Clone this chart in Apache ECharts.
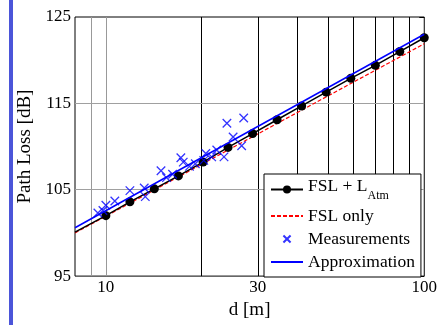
<!DOCTYPE html>
<html>
<head>
<meta charset="utf-8">
<script src="https://cdn.jsdelivr.net/npm/echarts@6/dist/echarts.min.js"></script>
<style>
  html, body { margin: 0; padding: 0; background: #fff; }
  #chart { width: 440px; height: 325px; }
</style>
</head>
<body>
<div id="chart"></div>
<script>
// FSL + L_Atm curve (markers from d = 10 on)
const fslAtmD = [8, 10, 11.9, 14.2, 16.9, 20.2, 24.2, 28.9, 34.5, 41.2, 49.2, 58.8, 70.2, 83.8, 100];
const fslAtmLoss = [100.1, 102.0, 103.6, 105.1, 106.6, 108.2, 109.9, 111.5, 113.1, 114.7, 116.3, 117.9, 119.4, 121.0, 122.6];

// FSL only
const fslD = [8, 100];
const fslLoss = [100.0, 121.9];

// measurements
const measD = [9.44, 9.79, 10.0, 10.67, 11.9, 13.2, 13.3, 14.9, 15.5, 16.2, 17.2, 17.5, 18.3, 19.1, 20.3, 20.6, 21.5, 22.3, 23.5, 24.0, 25.1, 26.7, 27.1];
const measLoss = [102.3, 102.6, 103.2, 103.7, 104.9, 105.2, 104.2, 107.2, 106.4, 106.8, 108.7, 108.2, 107.7, 108.0, 108.4, 109.2, 108.8, 109.6, 108.8, 112.7, 111.1, 110.1, 113.3];

// fitted approximation
const approxD = [8, 100];
const approxLoss = [100.6, 123.0];

const xTickLabels = [10, 30, 100];
const xGridLight = [9, 10];
const xGridDark = [20, 30, 40, 50, 60, 70, 80, 90];
const yGrid = [105, 115];

const FONT = "'Liberation Serif', 'Times New Roman', serif";
// the empty moves pad the box so the cross is drawn at half the symbol size
const CROSS = "path://M-5,-5M0,0L10,10M10,0L0,10M15,15";
const CROSS_LEGEND = "path://M-2,-2M0,0L10,10M10,0L0,10M12,12";
const HIDDEN = { color: "rgba(0,0,0,0)", borderWidth: 0 };

const pairs = (xs, ys) => xs.map((x, i) => [x, ys[i]]);

const chart = echarts.init(document.getElementById("chart"), null, { renderer: "canvas" });

const gridLines = [
  ...xGridLight.map((v) => ({ xAxis: v, lineStyle: { color: "#999", width: 1, type: "solid" } })),
  ...xGridDark.map((v) => ({ xAxis: v, lineStyle: { color: "#000", width: 1, type: "solid" } })),
  ...yGrid.map((v) => ({ yAxis: v, lineStyle: { color: "#a0a0a0", width: 1, type: "solid" } })),
];

chart.setOption({
  animation: false,
  textStyle: { fontFamily: FONT },
  graphic: [{
    type: "rect",
    shape: { x: 9, y: 0, width: 4, height: 325 },
    style: { fill: "#4b55d9" },
    silent: true,
  }],
  grid: { left: 75, right: 13, top: 17, bottom: 40, show: true, borderColor: "#000", borderWidth: 1, backgroundColor: "transparent" },
  xAxis: {
    type: "log",
    logBase: 10,
    min: 8,
    max: 100,
    name: "d [m]",
    nameLocation: "middle",
    nameGap: 21,
    nameTextStyle: { fontFamily: FONT, fontSize: 19, color: "#000" },
    axisLine: { show: false },
    axisTick: { show: false },
    splitLine: { show: false },
    axisLabel: { customValues: xTickLabels, fontFamily: FONT, fontSize: 17, color: "#000", margin: 3 },
  },
  yAxis: [{
    type: "value",
    min: 95,
    max: 125,
    interval: 10,
    name: "Path Loss [dB]",
    nameLocation: "middle",
    nameGap: 36,
    nameTextStyle: { fontFamily: FONT, fontSize: 19, color: "#000" },
    axisLine: { show: false },
    axisTick: { show: false },
    splitLine: { show: false },
    axisLabel: { fontFamily: FONT, fontSize: 17, color: "#000", margin: 4 },
  }, {
    type: "value",
    position: "right",
    min: 95,
    max: 125,
    interval: 10,
    axisLine: { show: false },
    axisTick: { show: true, inside: true, length: 5, lineStyle: { color: "#000" } },
    splitLine: { show: false },
    axisLabel: { show: false },
  }],
  legend: {
    orient: "vertical",
    left: 264,
    top: 174,
    padding: [3, 6, 6, 6],
    itemGap: 5,
    itemWidth: 32,
    itemHeight: 10,
    backgroundColor: "#fff",
    borderColor: "#000",
    borderWidth: 1,
    data: [
      { name: "FSL + L_Atm" },
      { name: "FSL only", itemStyle: HIDDEN },
      { name: "Measurements", icon: CROSS_LEGEND },
      { name: "Approximation", itemStyle: HIDDEN },
    ],
    textStyle: {
      fontFamily: FONT,
      fontSize: 17.5,
      color: "#000",
      rich: {
        m: { fontFamily: FONT, fontSize: 17.5, color: "#000", verticalAlign: "top", lineHeight: 18 },
        s: { fontFamily: FONT, fontSize: 12, color: "#000", verticalAlign: "bottom", lineHeight: 25 },
      },
    },
    formatter: (name) => (name === "FSL + L_Atm" ? "{m|FSL + L}{s|Atm}" : name),
  },
  series: [
    {
      name: "FSL only",
      type: "line",
      data: pairs(fslD, fslLoss),
      symbol: "none",
      lineStyle: { color: "#ff0000", width: 1.2, type: [4, 2] },
      itemStyle: { color: "#ff0000" },
      markLine: {
        silent: true,
        z: 1,
        symbol: "none",
        label: { show: false },
        emphasis: { disabled: true },
        data: gridLines,
      },
      z: 3,
    },
    {
      name: "FSL + L_Atm",
      type: "line",
      data: pairs(fslAtmD, fslAtmLoss).map((p, i) => (i === 0 ? { value: p, symbol: "none" } : p)),
      symbol: "circle",
      symbolSize: 9,
      showAllSymbol: true,
      lineStyle: { color: "#000", width: 1.5 },
      itemStyle: { color: "#000" },
      z: 4,
    },
    {
      name: "Measurements",
      type: "scatter",
      data: pairs(measD, measLoss),
      symbol: CROSS,
      symbolSize: 17,
      symbolKeepAspect: true,
      itemStyle: { color: "none", borderColor: "#0000ff", borderWidth: 1.3 },
      z: 5,
    },
    {
      name: "Approximation",
      type: "line",
      data: pairs(approxD, approxLoss),
      symbol: "none",
      lineStyle: { color: "#0000ff", width: 1.5 },
      itemStyle: { color: "#0000ff" },
      z: 6,
    },
  ],
});
</script>
</body>
</html>
